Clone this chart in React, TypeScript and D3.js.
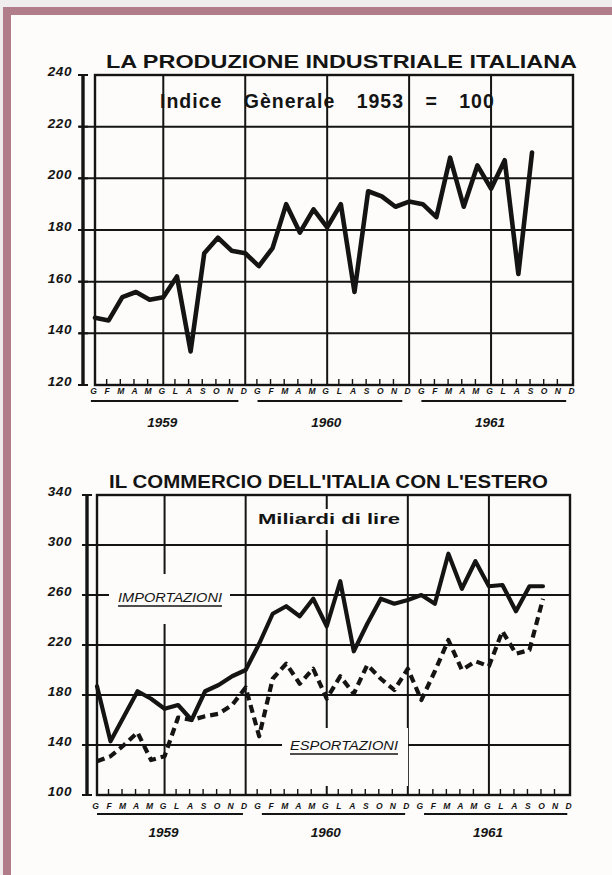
import React from "react";
import * as d3 from "d3";

const MONTHS = ["G", "F", "M", "A", "M", "G", "L", "A", "S", "O", "N", "D"];
const YEARS = ["1959", "1960", "1961"];

// Indice generale della produzione industriale (1953 = 100), Jan 1959 .. Sep 1961
const PRODUCTION = [
  146, 145, 154, 156, 153, 154, 162, 133, 171, 177, 172, 171,
  166, 173, 190, 179, 188, 181, 190, 156, 195, 193, 189, 191,
  190, 185, 208, 189, 205, 196, 207, 163, 210,
];

// Commercio con l'estero (miliardi di lire), Jan 1959 .. Oct 1961
const IMPORTS = [
  187, 143, 163, 183, 177, 169, 172, 160, 183, 188, 195, 200,
  221, 245, 251, 243, 257, 235, 271, 215, 237, 257, 253, 256,
  260, 253, 293, 265, 287, 267, 268, 247, 267, 267,
];
const EXPORTS = [
  127, 131, 140, 150, 128, 131, 162, 160, 163, 165, 172, 186,
  147, 193, 205, 189, 201, 177, 195, 181, 204, 193, 184, 201,
  176, 199, 224, 200, 207, 203, 231, 213, 216, 257,
];

const TOP_TICKS = [120, 140, 160, 180, 200, 220, 240];
const BOTTOM_TICKS = [100, 140, 180, 220, 260, 300, 340];
const GRID_MONTHS = [5, 11, 17, 23, 29];

const TOP_TITLE = "LA PRODUZIONE INDUSTRIALE ITALIANA";
const TOP_SUBTITLE = "Indice Gènerale 1953 = 100";
const BOTTOM_TITLE = "IL COMMERCIO DELL'ITALIA CON L'ESTERO";
const BOTTOM_SUBTITLE = "Miliardi di lire";
const IMPORT_LABEL = "IMPORTAZIONI";
const EXPORT_LABEL = "ESPORTAZIONI";

const INK = "#141414";
const PAPER = "#fdfcfa";
const FRAME = "#b27d8b";
const SANS = "'Liberation Sans', Arial, sans-serif";

type Panel = {
  x: d3.ScaleLinear<number, number>;
  y: d3.ScaleLinear<number, number>;
  ticks: number[];
  axisX: number;
  gridFrom: number;
  monthBase: number;
  yearBase: number;
  underY: number;
  underStart: number;
  underEnd: number;
};

function Axes({ p }: { p: Panel }) {
  const [x0, x1] = p.x.range();
  const [yb, yt] = p.y.range();
  const months = d3.range(36);
  return (
    <g>
      {p.ticks.slice(1, -1).map((t) => (
        <line key={"h" + t} x1={p.gridFrom} x2={x1} y1={p.y(t)} y2={p.y(t)} stroke={INK} strokeWidth={2} />
      ))}
      {GRID_MONTHS.map((m) => (
        <line key={"v" + m} x1={p.x(m)} x2={p.x(m)} y1={yt} y2={yb} stroke={INK} strokeWidth={2} />
      ))}
      <rect x={x0} y={yt} width={x1 - x0} height={yb - yt} fill="none" stroke={INK} strokeWidth={2.4} />
      <line x1={p.axisX} x2={p.axisX} y1={yt - 1} y2={yb} stroke={INK} strokeWidth={3.4} />
      {p.ticks.map((t) => (
        <line key={"c" + t} x1={p.axisX - 5} x2={p.axisX + 5} y1={p.y(t)} y2={p.y(t)} stroke={INK} strokeWidth={2} />
      ))}
      {p.ticks.map((t) => (
        <text
          key={"l" + t}
          x={72}
          y={p.y(t) + 1}
          textAnchor="end"
          fontFamily={SANS}
          fontWeight="bold"
          fontStyle="italic"
          fontSize={13.5}
          letterSpacing={0.6}
          fill={INK}
        >
          {t}
        </text>
      ))}
      {months
        .filter((m) => m > 0 && m < 35 && !GRID_MONTHS.includes(m))
        .map((m) => (
          <line key={"t" + m} x1={p.x(m) - 2} x2={p.x(m) - 2} y1={yb} y2={yb - 6} stroke={INK} strokeWidth={1.4} />
        ))}
      {months.map((m) => (
        <text
          key={"m" + m}
          x={p.x(m) - 1.5}
          y={p.monthBase}
          textAnchor="middle"
          fontFamily={SANS}
          fontWeight="bold"
          fontStyle="italic"
          fontSize={8.5}
          fill={INK}
        >
          {MONTHS[m % 12]}
        </text>
      ))}
      {YEARS.map((yr, k) => (
        <g key={yr}>
          <line
            x1={p.x(12 * k + (k === 0 ? p.underStart - 0.2 : p.underStart))}
            x2={p.x(12 * k + p.underEnd)}
            y1={p.underY}
            y2={p.underY}
            stroke={INK}
            strokeWidth={2}
          />
          <text
            x={p.x(12 * k + 5) - 1}
            y={p.yearBase}
            textAnchor="middle"
            fontFamily={SANS}
            fontWeight="bold"
            fontStyle="italic"
            fontSize={13.5}
            fill={INK}
          >
            {yr}
          </text>
        </g>
      ))}
    </g>
  );
}

export default function App() {
  const W = 612;
  const H = 875;

  const top: Panel = {
    x: d3.scaleLinear().domain([0, 35]).range([95, 573]),
    y: d3.scaleLinear().domain([120, 240]).range([385, 75]),
    ticks: TOP_TICKS,
    axisX: 83,
    gridFrom: 79,
    monthBase: 394,
    yearBase: 427,
    underY: 401,
    underStart: -0.1,
    underEnd: 10.5,
  };
  const bot: Panel = {
    x: d3.scaleLinear().domain([0, 35]).range([97, 570]),
    y: d3.scaleLinear().domain([100, 340]).range([795, 495]),
    ticks: BOTTOM_TICKS,
    axisX: 87,
    gridFrom: 82,
    monthBase: 809,
    yearBase: 837,
    underY: 814,
    underStart: 0.2,
    underEnd: 10.8,
  };

  const prodLine = d3
    .line<number>()
    .x((_, i) => top.x(i))
    .y((d) => top.y(d));
  const tradeLine = d3
    .line<number>()
    .x((_, i) => bot.x(i))
    .y((d) => bot.y(d));

  return (
    <svg
      width={W}
      height={H}
      viewBox={`0 0 ${W} ${H}`}
      style={{ position: "absolute", left: 0, top: 0, display: "block" }}
    >
      <rect x={0} y={0} width={W} height={H} fill="#efeded" />
      <rect x={3} y={7} width={W - 3} height={H - 7} fill={PAPER} />
      <rect x={3} y={7} width={W - 3} height={8} fill={FRAME} />
      <rect x={3} y={7} width={8} height={H - 7} fill={FRAME} />

      {/* ---------- Top chart ---------- */}
      <text
        x={106}
        y={68}
        textLength={471}
        lengthAdjust="spacingAndGlyphs"
        fontFamily={SANS}
        fontWeight="bold"
        fontSize={17.5}
        fill={INK}
      >
        {TOP_TITLE}
      </text>
      <Axes p={top} />
      <text
        x={160}
        y={108}
        fontFamily={SANS}
        fontWeight="bold"
        fontSize={19.5}
        letterSpacing={1}
        wordSpacing={15}
        fill={INK}
      >
        {TOP_SUBTITLE}
      </text>
      <path
        d={prodLine(PRODUCTION) || ""}
        fill="none"
        stroke={INK}
        strokeWidth={4.6}
        strokeLinejoin="round"
        strokeLinecap="round"
      />

      {/* ---------- Bottom chart ---------- */}
      <text
        x={109}
        y={488}
        textLength={439}
        lengthAdjust="spacingAndGlyphs"
        fontFamily={SANS}
        fontWeight="bold"
        fontSize={17.5}
        fill={INK}
      >
        {BOTTOM_TITLE}
      </text>
      <Axes p={bot} />
      <rect x={254} y={509} width={150} height={21} fill={PAPER} />
      <rect x={109} y={574} width={121} height={50} fill={PAPER} />
      <rect x={282} y={728} width={126} height={58} fill={PAPER} />
      <text
        x={258}
        y={524}
        textLength={142}
        lengthAdjust="spacingAndGlyphs"
        fontFamily={SANS}
        fontWeight="bold"
        fontSize={15.5}
        fill={INK}
      >
        {BOTTOM_SUBTITLE}
      </text>
      <text
        x={118}
        y={602}
        textLength={104}
        lengthAdjust="spacingAndGlyphs"
        fontFamily={SANS}
        fontStyle="italic"
        fontSize={12.5}
        fill={INK}
      >
        {IMPORT_LABEL}
      </text>
      <line x1={118} x2={222} y1={606} y2={606} stroke={INK} strokeWidth={1.6} />
      <text
        x={290}
        y={750}
        textLength={108}
        lengthAdjust="spacingAndGlyphs"
        fontFamily={SANS}
        fontStyle="italic"
        fontSize={12.5}
        fill={INK}
      >
        {EXPORT_LABEL}
      </text>
      <line x1={290} x2={398} y1={754} y2={754} stroke={INK} strokeWidth={1.6} />

      <path
        d={tradeLine(EXPORTS) || ""}
        fill="none"
        stroke={INK}
        strokeWidth={4.2}
        strokeDasharray="8 5"
        strokeLinejoin="round"
      />
      <path
        d={tradeLine(IMPORTS) || ""}
        fill="none"
        stroke={INK}
        strokeWidth={4.2}
        strokeLinejoin="round"
        strokeLinecap="round"
      />
    </svg>
  );
}
